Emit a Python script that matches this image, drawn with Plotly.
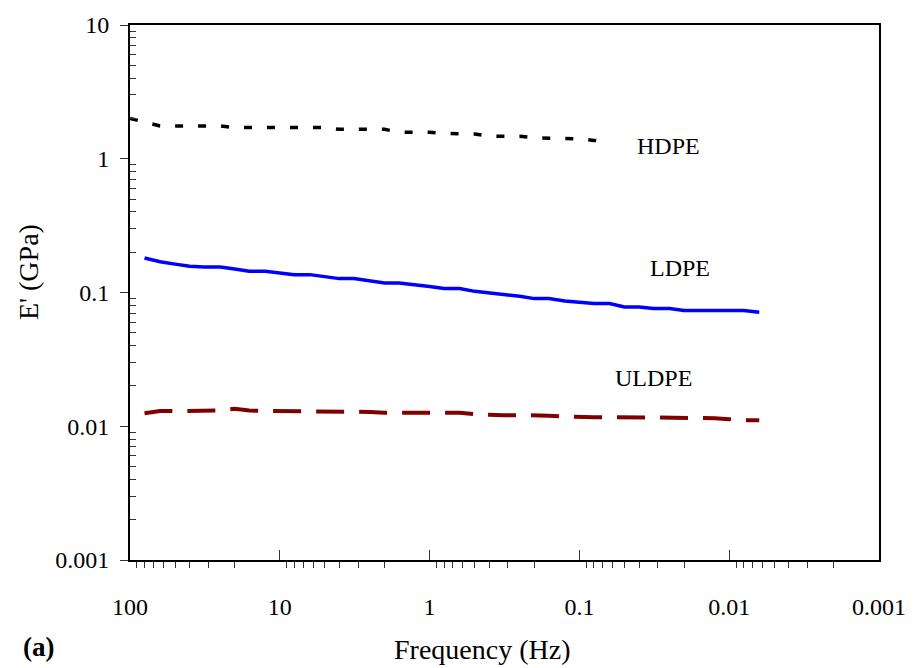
import plotly.graph_objects as go

# Frequency sweep (Hz), high to low
freq_hdpe = [100, 80, 63, 50, 40, 32, 25, 20, 16, 12.5, 10, 8, 6.3, 5, 4, 3.2, 2.5, 2,
             1.6, 1.25, 1, 0.8, 0.63, 0.5, 0.4, 0.32, 0.25, 0.2, 0.16, 0.125, 0.1, 0.08, 0.066]
freq = [80, 63, 50, 40, 32, 25, 20, 16, 12.5, 10, 8, 6.3, 5, 4, 3.2, 2.5, 2, 1.6, 1.25, 1,
        0.8, 0.63, 0.5, 0.4, 0.32, 0.25, 0.2, 0.16, 0.125, 0.1, 0.08, 0.063, 0.05, 0.04,
        0.032, 0.025, 0.02, 0.016, 0.0125, 0.01, 0.008, 0.0063]

# Storage modulus E' (GPa)
e_hdpe = [2.0, 1.87, 1.76, 1.76, 1.76, 1.76, 1.76, 1.71, 1.71, 1.71, 1.71, 1.71, 1.71, 1.71,
          1.66, 1.66, 1.66, 1.66, 1.58, 1.58, 1.58, 1.55, 1.53, 1.53, 1.475, 1.475, 1.475,
          1.43, 1.43, 1.41, 1.41, 1.37, 1.35]
e_ldpe = [0.181, 0.170, 0.163, 0.157, 0.155, 0.155, 0.150, 0.144, 0.144, 0.140, 0.136, 0.136,
          0.131, 0.127, 0.127, 0.122, 0.118, 0.118, 0.115, 0.111, 0.107, 0.107, 0.102, 0.0995,
          0.097, 0.0937, 0.090, 0.090, 0.0865, 0.0843, 0.0826, 0.0826, 0.078, 0.078, 0.0758,
          0.0758, 0.0733, 0.0733, 0.0733, 0.0733, 0.0733, 0.0713]
e_uldpe = [0.0125, 0.0130, 0.0130, 0.0130, 0.0130, 0.0131, 0.0135, 0.0131, 0.0130, 0.0130,
           0.0130, 0.0130, 0.0130, 0.0130, 0.0130, 0.0128, 0.0126, 0.0126, 0.0126, 0.0126,
           0.0126, 0.0126, 0.0123, 0.0121, 0.0121, 0.0121, 0.0121, 0.0120, 0.0118, 0.0117,
           0.0117, 0.0117, 0.0117, 0.0117, 0.0115, 0.0115, 0.0115, 0.0115, 0.0115, 0.0113,
           0.0111, 0.0111]

x_ticks = [100, 10, 1, 0.1, 0.01, 0.001]
x_ticktext = ["100", "10", "1", "0.1", "0.01", "0.001"]
y_ticks = [0.001, 0.01, 0.1, 1, 10]
y_ticktext = ["0.001", "0.01", "0.1", "1", "10"]

x_minor = [k * 10.0 ** e for e in range(-3, 2) for k in range(2, 10)]
y_minor = [k * 10.0 ** e for e in range(-3, 1) for k in range(2, 10)]

FONT = "Liberation Serif"

fig = go.Figure()
fig.add_trace(go.Scatter(x=freq_hdpe, y=e_hdpe, mode="lines", name="HDPE",
                         line=dict(color="black", width=3.5, dash="8px,15px")))
fig.add_trace(go.Scatter(x=freq, y=e_ldpe, mode="lines", name="LDPE",
                         line=dict(color="#0000FF", width=3.5)))
fig.add_trace(go.Scatter(x=freq, y=e_uldpe, mode="lines", name="ULDPE",
                         line=dict(color="#800000", width=4, dash="28px,15px")))

fig.update_xaxes(
    type="log", range=[2, -3],
    tickmode="array", tickvals=x_ticks, ticktext=x_ticktext,
    ticks="inside", ticklen=10, tickwidth=1, tickcolor="#333",
    ticklabelstandoff=24,
    minor=dict(ticks="outside", ticklen=6, tickwidth=1, tickcolor="#333",
               tickmode="array", tickvals=x_minor, showgrid=False),
    showline=True, linecolor="black", linewidth=2, mirror=True,
    showgrid=False, zeroline=False,
    tickfont=dict(family=FONT, size=24, color="black"),
)
fig.update_yaxes(
    type="log", range=[-3, 1],
    tickmode="array", tickvals=y_ticks, ticktext=y_ticktext,
    ticks="outside", ticklen=8, tickwidth=1, tickcolor="#333",
    ticklabelstandoff=6,
    minor=dict(ticks="inside", ticklen=6, tickwidth=1, tickcolor="#333",
               tickmode="array", tickvals=y_minor, showgrid=False),
    showline=True, linecolor="black", linewidth=2, mirror=True,
    showgrid=False, zeroline=False,
    tickfont=dict(family=FONT, size=24, color="black"),
)

labels = [
    dict(x=674, y=143, text="HDPE", size=24),
    dict(x=685, y=266, text="LDPE", size=24),
    dict(x=658, y=377, text="ULDPE", size=24),
    dict(x=485, y=650, text="Frequency (Hz)", size=28),
    dict(x=38, y=648, text="<b>(a)</b>", size=27),
]
W, H = 918, 668
annotations = []
for lb in labels:
    annotations.append(dict(
        x=lb["x"] / W, y=1 - lb["y"] / H, xref="paper", yref="paper",
        text=lb["text"], showarrow=False, xanchor="center", yanchor="middle",
        font=dict(family=FONT, size=lb["size"], color="black"),
    ))
annotations.append(dict(
    x=27 / W, y=1 - 270 / H, xref="paper", yref="paper", text="E' (GPa)",
    textangle=-90, showarrow=False, xanchor="center", yanchor="middle",
    font=dict(family=FONT, size=28, color="black"),
))

# convert pixel-based label positions into paper coordinates of the plot area
L, R, T, B = 130, 32, 21, 108
pw, ph = W - L - R, H - T - B
for a in annotations:
    px = a["x"] * W
    py = (1 - a["y"]) * H
    a["x"] = (px - L) / pw
    a["y"] = 1 - (py - T) / ph

fig.update_layout(
    width=W, height=H,
    margin=dict(l=L, r=R, t=T, b=B, pad=0),
    paper_bgcolor="white", plot_bgcolor="white",
    showlegend=False,
    annotations=annotations,
    font=dict(family=FONT, color="black"),
)

fig.write_html("out.html")
